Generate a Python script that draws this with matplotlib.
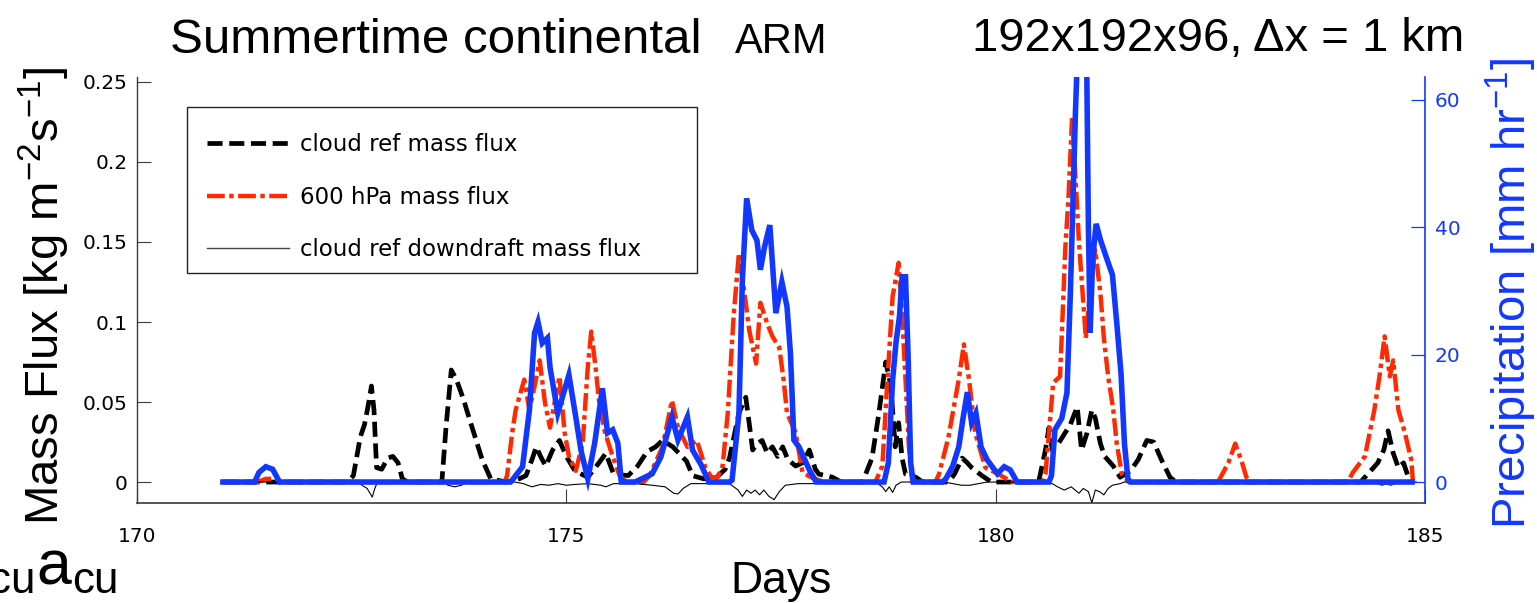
import matplotlib
matplotlib.use('Agg')
import matplotlib.pyplot as plt
from matplotlib.patches import Rectangle
from matplotlib.lines import Line2D

plt.rcParams['mathtext.fontset'] = 'custom'
plt.rcParams['mathtext.rm'] = 'Liberation Sans'
plt.rcParams['mathtext.it'] = 'Liberation Sans'
plt.rcParams['mathtext.bf'] = 'Liberation Sans'

# ---------------- data ----------------
# cloud reference mass flux (black dashed)  [kg m-2 s-1]
cloud_t = [171.0, 172.45, 172.52, 172.6, 172.65, 172.7, 172.73, 172.76, 172.79, 172.85, 172.92,
           172.98, 173.04, 173.09, 173.15, 173.55, 173.6, 173.66, 173.72, 173.8, 173.88, 173.95,
           174.02, 174.12, 174.3, 174.45, 174.53, 174.6, 174.65, 174.7, 174.76, 174.84, 174.92,
           175.0, 175.1, 175.25, 175.38, 175.46, 175.55, 175.72, 175.83, 175.94, 176.04, 176.12,
           176.24, 176.4, 176.47, 176.6, 176.75, 176.85, 176.9, 177.01, 177.09, 177.17, 177.22,
           177.28, 177.34, 177.4, 177.46, 177.52, 177.58, 177.67, 177.75, 177.83, 177.9, 177.94,
           178.1, 178.2, 178.45, 178.56, 178.64, 178.72, 178.78, 178.83, 178.87, 178.91, 178.95,
           179.07, 179.15, 179.45, 179.52, 179.61, 179.67, 179.72, 179.84, 179.95, 180.5, 180.58,
           180.62, 180.66, 180.73, 180.8, 180.87, 180.95, 181.0, 181.06, 181.12, 181.16, 181.22,
           181.27, 181.37, 181.45, 181.57, 181.66, 181.76, 181.84, 181.93, 182.03, 182.1, 184.25,
           184.3, 184.45, 184.52, 184.57, 184.63, 184.69, 184.75, 184.8, 184.86]
cloud_mf = [0.0, 0.0, 0.004, 0.028, 0.036, 0.05, 0.060, 0.045, 0.009, 0.008, 0.015,
            0.016, 0.012, 0.002, 0.0, 0.0, 0.035, 0.070, 0.064, 0.052, 0.038, 0.026,
            0.014, 0.002, 0.0, 0.002, 0.004, 0.014, 0.022, 0.016, 0.010, 0.020, 0.026,
            0.016, 0.007, 0.003, 0.012, 0.018, 0.005, 0.004, 0.010, 0.019, 0.022, 0.026,
            0.022, 0.013, 0.004, 0.002, 0.003, 0.008, 0.015, 0.043, 0.053, 0.020, 0.024,
            0.026, 0.018, 0.022, 0.016, 0.022, 0.014, 0.010, 0.012, 0.020, 0.008, 0.005,
            0.003, 0.0, 0.0, 0.015, 0.043, 0.075, 0.060, 0.022, 0.037, 0.015, 0.005,
            0.003, 0.0, 0.0, 0.005, 0.015, 0.012, 0.009, 0.004, 0.0, 0.0, 0.02,
            0.034, 0.020, 0.024, 0.030, 0.036, 0.047, 0.020, 0.030, 0.045, 0.040, 0.024,
            0.016, 0.010, 0.003, 0.007, 0.014, 0.026, 0.025, 0.014, 0.003, 0.0, 0.0,
            0.003, 0.012, 0.020, 0.032, 0.018, 0.009, 0.012, 0.004, 0.0]

# 600 hPa mass flux (red dash-dot)
p600_t = [171.0, 171.4, 171.5, 171.6, 171.7, 174.28, 174.31, 174.37, 174.41, 174.51, 174.57,
          174.63, 174.69, 174.75, 174.81, 174.92, 174.98, 175.03, 175.11, 175.19, 175.25, 175.29,
          175.34, 175.38, 175.45, 175.54, 175.62, 175.7, 175.9, 175.97, 176.12, 176.23, 176.3,
          176.41, 176.52, 176.62, 176.69, 176.76, 176.82, 176.88, 176.95, 177.01, 177.07, 177.13,
          177.21, 177.26, 177.34, 177.40, 177.48, 177.53, 177.57, 177.67, 177.75, 177.85, 178.0,
          178.6, 178.68, 178.74, 178.80, 178.87, 178.91, 178.95, 178.99, 179.03, 179.3, 179.34,
          179.45, 179.57, 179.63, 179.69, 179.76, 179.88, 180.03, 180.19, 180.55, 180.58, 180.62,
          180.67, 180.75, 180.79, 180.81, 180.85, 180.89, 180.93, 180.97, 181.01, 181.05, 181.1,
          181.16, 181.22, 181.26, 181.31, 181.37, 181.41, 181.47, 181.55, 182.59, 182.71, 182.79,
          182.87, 182.92, 182.98, 184.1, 184.16, 184.30, 184.41, 184.47, 184.53, 184.59, 184.63,
          184.69, 184.76, 184.84, 184.86]
p600_mf = [0.0, 0.0, 0.002, 0.002, 0.0, 0.0, 0.004, 0.031, 0.045, 0.064, 0.045,
           0.060, 0.076, 0.050, 0.034, 0.066, 0.031, 0.016, 0.007, 0.024, 0.072, 0.094,
           0.072, 0.051, 0.031, 0.016, 0.004, 0.0, 0.0, 0.004, 0.022, 0.051, 0.034,
           0.022, 0.026, 0.009, 0.003, 0.003, 0.010, 0.043, 0.105, 0.143, 0.120, 0.095,
           0.074, 0.112, 0.099, 0.091, 0.084, 0.064, 0.043, 0.031, 0.006, 0.003, 0.0,
           0.0, 0.010, 0.064, 0.116, 0.137, 0.105, 0.064, 0.022, 0.0, 0.0, 0.005,
           0.028, 0.064, 0.086, 0.064, 0.031, 0.009, 0.005, 0.0, 0.0, 0.005, 0.030,
           0.062, 0.066, 0.118, 0.145, 0.180, 0.228, 0.190, 0.150, 0.120, 0.090, 0.120,
           0.145, 0.118, 0.090, 0.066, 0.045, 0.024, 0.005, 0.0, 0.0, 0.012, 0.024,
           0.012, 0.003, 0.0, 0.0, 0.006, 0.016, 0.045, 0.066, 0.091, 0.066, 0.076,
           0.045, 0.032, 0.014, 0.0]

# cloud reference downdraft mass flux (thin black)
down_t = [171.0, 172.58, 172.62, 172.68, 172.74, 172.77, 172.8, 173.58, 173.62, 173.7, 173.78,
          173.83, 174.4, 174.5, 174.6, 174.7, 174.8, 174.9, 175.0, 175.1, 175.25, 175.4, 175.46,
          175.55, 175.8, 176.0, 176.15, 176.25, 176.3, 176.36, 176.45, 176.9, 177.0, 177.05,
          177.1, 177.15, 177.2, 177.25, 177.3, 177.36, 177.42, 177.48, 177.55, 177.7, 177.9,
          178.0, 178.6, 178.68, 178.72, 178.76, 178.8, 178.84, 178.9, 179.4, 179.5, 179.6,
          179.7, 179.8, 179.9, 180.6, 180.66, 180.72, 180.8, 180.88, 180.97, 181.02, 181.08,
          181.12, 181.16, 181.21, 181.26, 181.31, 181.36, 181.45, 181.5, 184.4, 184.5, 184.55,
          184.6, 184.7, 184.9]
down_mf = [0.0, 0.0, -0.002, -0.004, -0.0094, -0.004, 0.0, 0.0, -0.002, -0.003, -0.002,
           0.0, 0.0, -0.001, -0.003, -0.0015, -0.002, -0.001, -0.002, -0.0015, -0.001, -0.002, -0.003,
           -0.001, -0.001, -0.002, -0.003, -0.007, -0.0075, -0.004, -0.001, -0.001, -0.005, -0.009,
           -0.005, -0.007, -0.005, -0.008, -0.005, -0.009, -0.011, -0.006, -0.002, -0.001, -0.001,
           0.0, 0.0, -0.003, -0.006, -0.003, -0.0065, -0.002, 0.0, 0.0, -0.001, -0.002,
           -0.002, -0.001, 0.0, 0.0, -0.001, -0.003, -0.005, -0.003, -0.007, -0.004, -0.006,
           -0.013, -0.005, -0.006, -0.008, -0.004, -0.002, -0.001, 0.0, 0.0, -0.002, -0.001,
           -0.002, 0.0, 0.0]

# precipitation (blue, right axis)  [mm hr-1]
precip_t = [171.0, 171.37, 171.42, 171.5, 171.58, 171.66, 174.35, 174.37, 174.49, 174.57, 174.63,
            174.67, 174.72, 174.78, 174.81, 174.9, 175.03, 175.11, 175.17, 175.25, 175.33, 175.42,
            175.48, 175.54, 175.6, 175.64, 175.8, 176.0, 176.1, 176.23, 176.3, 176.41, 176.47,
            176.57, 176.66, 176.9, 176.93, 177.01, 177.05, 177.1, 177.16, 177.22, 177.26, 177.31,
            177.37, 177.44, 177.51, 177.57, 177.61, 177.65, 177.71, 177.83, 177.91, 178.7, 178.75,
            178.8, 178.84, 178.88, 178.91, 178.95, 178.98, 179.01, 179.04, 179.38, 179.42, 179.5,
            179.57, 179.62, 179.67, 179.72, 179.77, 179.83, 179.9, 180.02, 180.1, 180.17, 180.25,
            180.62, 180.65, 180.69, 180.77, 180.83, 180.87, 180.93, 180.95, 181.06, 181.08, 181.10,
            181.13, 181.17, 181.22, 181.3, 181.36, 181.41, 181.46, 181.5, 181.54, 181.57, 184.85]
precip = [0.0, 0.0, 1.5, 2.4, 2.0, 0.0, 0.0, 0.3, 2.4, 11.3, 23.4,
          25.1, 21.8, 22.6, 18.0, 10.8, 16.8, 10.2, 5.0, 0.5, 6.1, 14.7,
          7.7, 8.2, 6.1, 0.0, 0.0, 1.3, 3.9, 10.2, 6.6, 10.2, 5.0,
          2.7, 0.0, 0.0, 0.3, 10.8, 31.7, 44.5, 39.5, 37.9, 33.3, 37.0,
          40.3, 26.5, 31.4, 27.5, 20.2, 6.6, 5.5, 1.9, 0.0, 0.0, 3.0,
          16.0, 22.0, 26.0, 32.2, 32.2, 20.0, 3.0, 0.0, 0.0, 0.5, 2.5,
          5.5, 10.0, 14.1, 9.3, 10.8, 5.5, 3.5, 1.3, 2.4, 1.9, 0.0,
          0.0, 1.0, 8.2, 10.0, 14.0, 29.6, 58.4, 66.0, 66.0, 40.0, 23.4,
          35.0, 40.5, 38.0, 34.8, 32.5, 25.0, 17.0, 6.0, 0.5, 0.0, 0.0]

x_ticks = [170, 175, 180, 185]
left_ticks = [0, 0.05, 0.1, 0.15, 0.2, 0.25]
left_ticklabels = ['0', '0.05', '0.1', '0.15', '0.2', '0.25']
right_ticks = [0, 20, 40, 60]
legend_labels = ['cloud ref mass flux', '600 hPa mass flux', 'cloud ref downdraft mass flux']

# ---------------- styling ----------------
W, H = 1537, 603
BLACK = '#000000'
RED = '#ff2a00'
BLUE = '#1238ff'
AXGRAY = '#3a3a3a'
SANS = 'Liberation Sans'
SMALL = 'DejaVu Sans'

fig = plt.figure(figsize=(W / 100, H / 100), dpi=100)
ax = fig.add_axes([137 / W, 100 / H, 1288 / W, 426 / H])
ax2 = ax.twinx()

cloud_style = dict(color=BLACK, lw=3.4, ls=(0, (3.2, 1.4)))
p600_style = dict(color=RED, lw=3.2, ls=(0, (4.0, 1.0, 1.0, 1.0)))
down_style = dict(color=BLACK, lw=0.8, ls='-')
ax.plot(cloud_t, cloud_mf, **cloud_style)
ax.plot(p600_t, p600_mf, **p600_style)
ax.plot(down_t, down_mf, **down_style)
ax2.plot(precip_t, precip, color=BLUE, lw=4.0, solid_joinstyle='miter')

ax.set_xlim(170, 185)
ax.set_ylim(-0.0131, 0.2531)
ax2.set_ylim(-3.29, 63.53)

ax.set_xticks(x_ticks)
ax.set_xticklabels([str(v) for v in x_ticks], family=SMALL, fontsize=14.5)
ax.set_yticks(left_ticks)
ax.set_yticklabels(left_ticklabels, family=SMALL, fontsize=14.5)
ax2.set_yticks(right_ticks)
ax2.set_yticklabels([str(v) for v in right_ticks], family=SMALL, fontsize=14.5, color=BLUE)

for a in (ax, ax2):
    a.spines['top'].set_visible(False)
ax.spines['right'].set_visible(False)
ax2.spines['left'].set_visible(False)
ax2.spines['bottom'].set_visible(False)
ax.spines['left'].set_color(AXGRAY)
ax.spines['bottom'].set_color(AXGRAY)
ax.spines['left'].set_linewidth(1.0)
ax.spines['bottom'].set_linewidth(1.2)
ax2.spines['right'].set_color(BLUE)
ax2.spines['right'].set_linewidth(1.2)

ax.tick_params(axis='x', direction='in', length=10, width=0.8, color=AXGRAY, pad=17)
ax.tick_params(axis='y', direction='in', length=10, width=0.8, color=AXGRAY, pad=6.5)
ax2.tick_params(axis='y', direction='in', length=10, width=0.9, color=BLUE, pad=7)

# legend box
ax.add_patch(Rectangle((0.0388, 0.54), 0.396, 0.3896, transform=ax.transAxes,
                       facecolor='white', edgecolor='#222222', lw=1.0, zorder=5))
handles = [Line2D([], [], **cloud_style), Line2D([], [], **p600_style),
           Line2D([], [], color='#444444', lw=1.0)]
leg = ax.legend(handles, legend_labels, loc='upper left', bbox_to_anchor=(0.0543, 0.868),
                frameon=False, borderpad=0, borderaxespad=0, handlelength=3.6,
                handletextpad=0.45, labelspacing=1.28,
                prop=dict(family=SMALL, size=16.5))
leg.set_zorder(6)

# texts
def fx(px):
    return px / W

def fy(py):
    return 1 - py / H

fig.text(fx(170), fy(53), 'Summertime continental', family=SANS, fontsize=35.5, va='baseline')
fig.text(fx(735), fy(53), 'ARM', family=SANS, fontsize=30, va='baseline')
fig.text(fx(972), fy(51), '192x192x96, \u0394x = 1 km', family=SANS, fontsize=34, va='baseline')
fig.text(fx(781), fy(593), 'Days', family=SANS, fontsize=32, ha='center', va='baseline')
fig.text(fx(44), fy(296), r'Mass Flux [kg m$^{-2}$s$^{-1}$]', family=SANS, fontsize=34,
         rotation=90, ha='center', va='center')
fig.text(fx(1511), fy(293), r'Precipitation [mm hr$^{-1}$]', family=SANS, fontsize=34,
         rotation=90, ha='center', va='center', color=BLUE)
fig.text(fx(117), fy(584), r'$\mathregular{w_{cu}a_{cu}}$', family=SANS, fontsize=45,
         ha='right', va='baseline')

fig.savefig('out.png', dpi=100)
